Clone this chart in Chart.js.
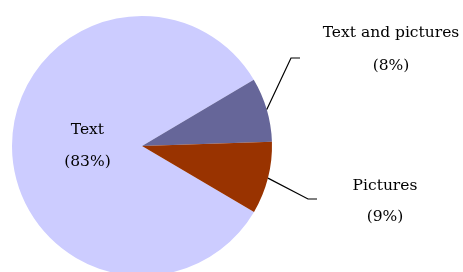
<!DOCTYPE html>
<html>
<head>
<meta charset="utf-8">
<script src="https://cdn.jsdelivr.net/npm/chart.js@4/dist/chart.umd.min.js"></script>
<style>
  html, body { margin: 0; padding: 0; background: #fff; overflow: hidden; }
  canvas { display: block; }
</style>
</head>
<body>
<canvas id="myChart" width="463" height="292"></canvas>
<script>
// slice data, clockwise starting from the lower right
var categories = ['Text', 'Text and pictures', 'Pictures'];
var shares = [83, 8, 9];
var sliceColors = ['#CCCCFF', '#666699', '#993300'];

// label placement for each slice: inside the pie, or outside with a leader line
var labelPlacement = [
    { inside: true, r: 0.42 },
    { inside: false, elbow: [291, 58], lineEnd: 300, text: [391, 33], gap: 33 },
    { inside: false, elbow: [308, 199], lineEnd: 317, text: [385, 186], gap: 31 }
];

var sliceLabels = {
    id: 'sliceLabels',
    afterDatasetsDraw: function(chart) {
        var ctx = chart.ctx;
        var arcs = chart.getDatasetMeta(0).data;
        var total = shares.reduce(function(a, b) { return a + b; }, 0);
        ctx.save();
        ctx.font = '15.5px "DejaVu Serif", serif';
        ctx.fillStyle = '#000';
        ctx.textAlign = 'center';
        ctx.textBaseline = 'middle';
        ctx.strokeStyle = '#000';
        ctx.lineWidth = 1.2;
        arcs.forEach(function(arc, i) {
            var p = labelPlacement[i];
            var mid = (arc.startAngle + arc.endAngle) / 2;
            var pct = '(' + Math.round(shares[i] / total * 100) + '%)';
            if (p.inside) {
                var lx = arc.x + Math.cos(mid) * arc.outerRadius * p.r;
                var ly = arc.y + Math.sin(mid) * arc.outerRadius * p.r;
                ctx.fillText(categories[i], lx, ly - 16);
                ctx.fillText(pct, lx, ly + 16);
            } else {
                var sx = arc.x + Math.cos(mid) * arc.outerRadius;
                var sy = arc.y + Math.sin(mid) * arc.outerRadius;
                ctx.beginPath();
                ctx.moveTo(sx, sy);
                ctx.lineTo(p.elbow[0], p.elbow[1]);
                ctx.lineTo(p.lineEnd, p.elbow[1]);
                ctx.stroke();
                ctx.fillText(categories[i], p.text[0], p.text[1]);
                ctx.fillText(pct, p.text[0], p.text[1] + p.gap);
            }
        });
        ctx.restore();
    }
};

var ctx = document.getElementById('myChart').getContext('2d');
var myChart = new Chart(ctx, {
    type: 'pie',
    data: {
        labels: categories,
        datasets: [{
            data: shares,
            backgroundColor: sliceColors,
            borderWidth: 0
        }]
    },
    options: {
        responsive: false,
        animation: false,
        rotation: 120.5,
        layout: { padding: { left: 12, right: 191, top: 16, bottom: 16 } },
        plugins: {
            legend: { display: false },
            tooltip: { enabled: false }
        }
    },
    plugins: [sliceLabels]
});
</script>
</body>
</html>
